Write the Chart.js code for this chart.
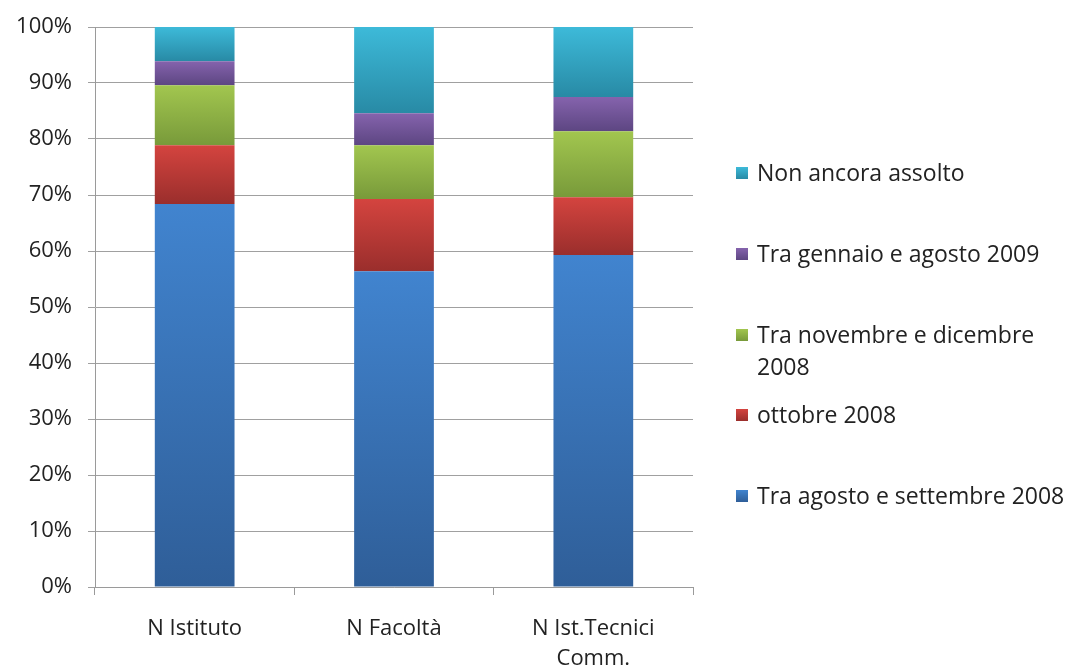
<!DOCTYPE html>
<html>
<head>
<meta charset="utf-8">
<script src="https://cdn.jsdelivr.net/npm/chart.js@4.4.1/dist/chart.umd.min.js"></script>
<style>
  html, body { margin: 0; padding: 0; background: #fff; }
  #wrap { position: relative; width: 1071px; height: 667px; overflow: hidden; }
  #legend { position: absolute; left: 736px; top: 0; font-family: 'Open Sans', sans-serif; font-size: 23px; color: #222; }
  #legend .item { position: absolute; left: 0; width: 335px; line-height: 32px; white-space: normal; }
  #legend .sw { position: absolute; left: 0; top: 11px; width: 12px; height: 12px; }
  #legend .tx { display: block; margin-left: 21px; }
</style>
</head>
<body>
<div id="wrap">
  <canvas id="c" width="1071" height="667"></canvas>
  <div id="legend"></div>
</div>
<script>
const categories = ['N Istituto', 'N Facoltà', ['N Ist.Tecnici', 'Comm.']];
const seriesNames = [
  'Tra agosto e settembre 2008',
  'ottobre 2008',
  'Tra novembre e dicembre 2008',
  'Tra gennaio e agosto 2009',
  'Non ancora assolto'
];
const agostoSettembre = [68.4, 56.4, 59.3];
const ottobre = [10.5, 12.9, 10.3];
const novDic = [10.7, 9.6, 11.8];
const genAgo = [4.3, 5.7, 6.1];
const nonAssolto = [6.1, 15.4, 12.5];
const yTicks = [0, 10, 20, 30, 40, 50, 60, 70, 80, 90, 100];

const seriesValues = [agostoSettembre, ottobre, novDic, genAgo, nonAssolto];
// top / bottom colours of each segment's gradient
const shades = [
  ['#4184cf', '#2f5e98'],
  ['#d4443f', '#9a2e2c'],
  ['#a2c64f', '#789a3a'],
  ['#8563ad', '#5d4682'],
  ['#3dbad9', '#288aa5']
];
const legendTops = [156, 237, 318, 398, 479];

function segGradient(ctx, si) {
  const chart = ctx.chart;
  const y = chart.scales.y;
  if (!y || ctx.dataIndex === undefined) return shades[si][0];
  let start = 0;
  for (let k = 0; k < si; k++) start += seriesValues[k][ctx.dataIndex];
  const end = start + seriesValues[si][ctx.dataIndex];
  const y0 = y.getPixelForValue(end), y1 = y.getPixelForValue(start);
  if (!isFinite(y0) || !isFinite(y1)) return shades[si][0];
  const g = chart.ctx.createLinearGradient(0, y0, 0, y1);
  g.addColorStop(0, shades[si][0]);
  g.addColorStop(1, shades[si][1]);
  return g;
}

const datasets = seriesNames.map((name, i) => ({
  label: name,
  data: seriesValues[i],
  backgroundColor: ctx => segGradient(ctx, i),
  borderWidth: 0,
  barPercentage: 0.8,
  categoryPercentage: 0.5
}));

Chart.defaults.font.family = "'Open Sans', sans-serif";
Chart.defaults.color = '#222';

new Chart(document.getElementById('c'), {
  type: 'bar',
  data: { labels: categories, datasets },
  options: {
    responsive: false,
    animation: false,
    layout: { padding: { top: 27, right: 378, left: 0, bottom: 0 } },
    plugins: { legend: { display: false }, tooltip: { enabled: false } },
    scales: {
      x: {
        stacked: true,
        grid: { offset: true, drawOnChartArea: false, drawTicks: true, tickLength: 8, color: '#9a9a9a' },
        border: { color: '#9a9a9a' },
        ticks: { font: { size: 22, lineHeight: 1.4 }, padding: 18, maxRotation: 0 },
        afterFit: s => { s.height = 80; }
      },
      y: {
        stacked: true,
        min: 0,
        max: 100,
        afterBuildTicks: s => { s.ticks = yTicks.map(v => ({ value: v })); },
        grid: { color: '#a0a0a0', tickLength: 7 },
        border: { color: '#9a9a9a' },
        ticks: { font: { size: 22, lineHeight: 1 }, padding: 16, callback: v => v + '%' },
        afterFit: s => { s.width = 95; }
      }
    }
  }
});

// legend drawn in reverse order, like the reference
const lg = document.getElementById('legend');
seriesNames.slice().reverse().forEach((name, j) => {
  const si = seriesNames.length - 1 - j;
  const it = document.createElement('div');
  it.className = 'item';
  it.style.top = legendTops[j] + 'px';
  it.innerHTML = '<span class="sw" style="background:linear-gradient(' + shades[si][0] + ',' + shades[si][1] + ')"></span><span class="tx">' + name + '</span>';
  lg.appendChild(it);
});
</script>
</body>
</html>
